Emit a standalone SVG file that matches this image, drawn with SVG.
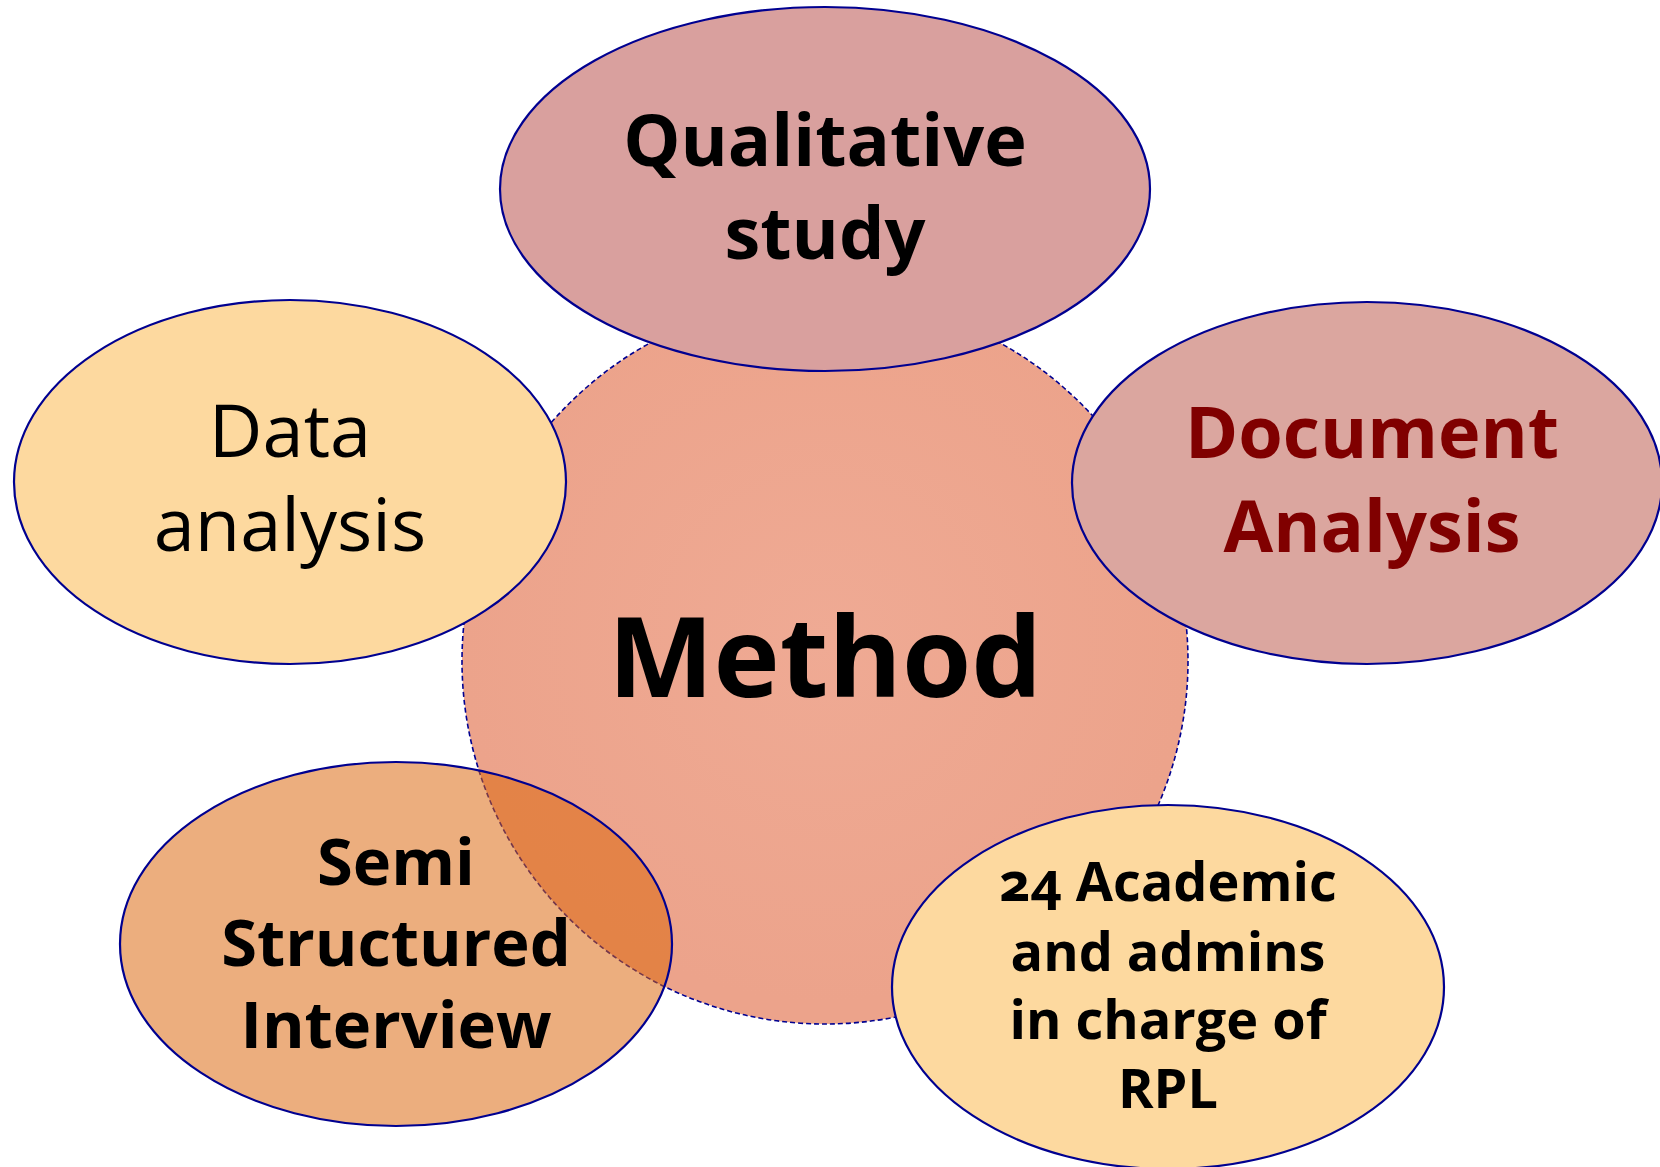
<svg xmlns="http://www.w3.org/2000/svg" width="1660" height="1167" viewBox="0 0 1660 1167">
<style>
.node{stroke:#000090;stroke-width:2.2}
.t{font-family:"Open Sans","Noto Sans","Liberation Sans",sans-serif;text-anchor:middle;fill:#000;font-variant-numeric:oldstyle-nums}
.b{font-weight:bold}
.dr{fill:#800000}
</style>
<defs>
<radialGradient id="mg" cx="0.5" cy="0.47" r="0.5">
<stop offset="0" stop-color="#EFAA94"/>
<stop offset="1" stop-color="#ECA38B"/>
</radialGradient>
</defs>
<rect width="1660" height="1167" fill="#fff"/>
<g id="connectors"></g>
<g id="method">
<circle cx="825" cy="661" r="363" fill="url(#mg)" stroke="#000090" stroke-width="1.6" stroke-dasharray="5,3"/>
<text class="t b" x="825" y="697" font-size="112">Method</text>
</g>
<g id="qualitative">
<ellipse class="node" cx="825" cy="189" rx="325" ry="182" fill="#D9A09E"/>
<text class="t b" x="825" y="166" font-size="72">Qualitative</text>
<text class="t b" x="825" y="259" font-size="72">study</text>
</g>
<g id="data-analysis">
<ellipse class="node" cx="290" cy="482" rx="276" ry="182" fill="#FDD99F"/>
<text class="t" x="290" y="457" font-size="74">Data</text>
<text class="t" x="290" y="551" font-size="74">analysis</text>
</g>
<g id="document-analysis">
<ellipse class="node" cx="1367" cy="483" rx="295" ry="181" fill="#DBA69F"/>
<text class="t b dr" x="1372" y="458" font-size="72">Document</text>
<text class="t b dr" x="1372" y="552" font-size="72">Analysis</text>
</g>
<g id="semi-structured">
<ellipse class="node" cx="396" cy="944" rx="276" ry="182" fill="#DB660B" fill-opacity="0.53"/>
<text class="t b" x="396" y="885" font-size="65">Semi</text>
<text class="t b" x="396" y="966" font-size="65">Structured</text>
<text class="t b" x="396" y="1048" font-size="65">Interview</text>
</g>
<g id="academics">
<ellipse class="node" cx="1168" cy="987" rx="276" ry="182" fill="#FDD99F"/>
<text class="t b" x="1168" y="901" font-size="54">24 Academic</text>
<text class="t b" x="1168" y="971" font-size="54">and admins</text>
<text class="t b" x="1168" y="1039" font-size="54">in charge of</text>
<text class="t b" x="1168" y="1108" font-size="54">RPL</text>
</g>
</svg>
